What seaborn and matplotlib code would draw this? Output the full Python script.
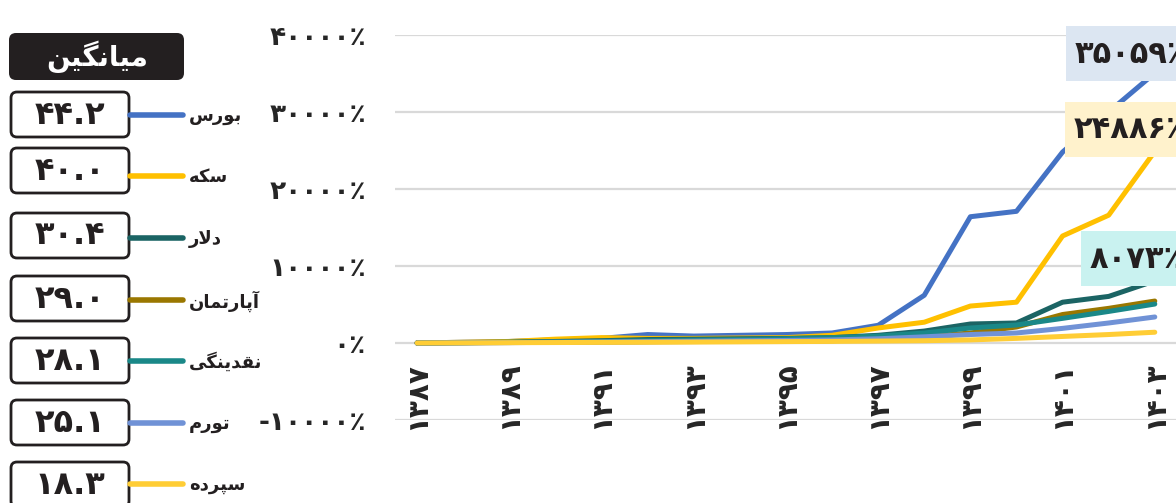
import numpy as np
import pandas as pd
import matplotlib
matplotlib.use('Agg')
import matplotlib.pyplot as plt
from matplotlib.patches import FancyBboxPatch, Rectangle
import seaborn as sns

# ---- data ----
years = list(range(1387, 1404))
series_names = ['بورس', 'سکه', 'دلار', 'آپارتمان', 'نقدینگی', 'تورم', 'سپرده']
bourse    = [0, 100, 200, 400, 600, 1100, 900, 1000, 1100, 1300, 2300, 6200, 16400, 17100, 24800, 30000, 35059]
gold      = [0, 100, 200, 500, 700, 600, 600, 650, 700, 1000, 1950, 2700, 4800, 5300, 13900, 16600, 24886]
dollar    = [0, 50, 100, 200, 300, 450, 500, 550, 600, 700, 1000, 1550, 2470, 2600, 5300, 6050, 8073]
apartment = [0, 30, 60, 100, 130, 160, 190, 220, 250, 300, 500, 800, 1300, 2080, 3700, 4500, 5450]
liquidity = [0, 40, 90, 150, 220, 300, 380, 460, 560, 700, 900, 1300, 1950, 2340, 3200, 4100, 5060]
inflation = [0, 20, 50, 90, 130, 180, 230, 280, 330, 400, 550, 800, 1100, 1300, 1900, 2600, 3380]
deposit   = [0, 20, 40, 60, 80, 100, 120, 150, 180, 210, 250, 300, 400, 600, 850, 1100, 1400]
averages  = [44.2, 40.0, 30.4, 29.0, 28.1, 25.1, 18.3]
end_labels = [35059, 24886, 8073]
colors = ['#4472c4', '#ffc000', '#1b6464', '#9a7700', '#1a8888', '#7092d6', '#ffcd35']

# ---- tiny persian shaper (matplotlib has no arabic shaping) ----
FORMS = {
    'ا': ('\uFE8D', '\uFE8E', None, None),
    'آ': ('\uFE81', '\uFE82', None, None),
    'د': ('\uFEA9', '\uFEAA', None, None),
    'ر': ('\uFEAD', '\uFEAE', None, None),
    'و': ('\uFEED', '\uFEEE', None, None),
    'ب': ('\uFE8F', '\uFE90', '\uFE91', '\uFE92'),
    'پ': ('\uFB56', '\uFB57', '\uFB58', '\uFB59'),
    'ت': ('\uFE95', '\uFE96', '\uFE97', '\uFE98'),
    'س': ('\uFEB1', '\uFEB2', '\uFEB3', '\uFEB4'),
    'ق': ('\uFED5', '\uFED6', '\uFED7', '\uFED8'),
    'ک': ('\uFB8E', '\uFB8F', '\uFB90', '\uFB91'),
    'گ': ('\uFB92', '\uFB93', '\uFB94', '\uFB95'),
    'ل': ('\uFEDD', '\uFEDE', '\uFEDF', '\uFEE0'),
    'م': ('\uFEE1', '\uFEE2', '\uFEE3', '\uFEE4'),
    'ن': ('\uFEE5', '\uFEE6', '\uFEE7', '\uFEE8'),
    'ه': ('\uFEE9', '\uFEEA', '\uFEEB', '\uFEEC'),
    'ی': ('\uFBFC', '\uFBFD', '\uFBFE', '\uFBFF'),
}


def shape(word):
    out = []
    prev_joins = False
    i = 0
    while i < len(word):
        c = word[i]
        if c == 'ل' and i + 1 < len(word) and word[i + 1] == 'ا':
            out.append('\uFEFC' if prev_joins else '\uFEFB')
            prev_joins = False
            i += 2
            continue
        iso, fin, ini, med = FORMS[c]
        nxt = word[i + 1] if i + 1 < len(word) else None
        joins_next = ini is not None and nxt in FORMS
        if prev_joins and joins_next:
            out.append(med)
        elif prev_joins:
            out.append(fin)
        elif joins_next:
            out.append(ini)
        else:
            out.append(iso)
        prev_joins = joins_next
        i += 1
    return ''.join(reversed(out))


def fa(s):
    return str(s).translate(str.maketrans('0123456789', '۰۱۲۳۴۵۶۷۸۹'))


# ---- long table for seaborn ----
values = [bourse, gold, dollar, apartment, liquidity, inflation, deposit]
df = pd.DataFrame({
    'year': years * len(series_names),
    'value': sum(values, []),
    'series': np.repeat(series_names, len(years)),
})

sns.set_style('white')
plt.rcParams['font.family'] = ['DejaVu Sans']
plt.rcParams['font.weight'] = 'bold'

W, H = 1176, 503
fig = plt.figure(figsize=(W / 100, H / 100), dpi=100)
ax = fig.add_axes([395 / W, 1 - 420 / H, 1 - 395 / W, (420 - 35) / H])

sns.lineplot(data=df, x='year', y='value', hue='series', hue_order=series_names,
             palette=colors, linewidth=3.6, legend=False, ax=ax,
             solid_capstyle='round')

ax.set_xlim(1386.52, 1403.46)
ax.set_ylim(-10000, 40000)
yt = [-10000, 0, 10000, 20000, 30000, 40000]
ax.set_yticks(yt)
ax.set_yticklabels([('-' if v < 0 else '') + fa(abs(v)) + '٪' for v in yt],
                   fontsize=19, fontweight='bold')
ax.set_xticks(years[::2])
ax.set_xticklabels([fa(y) for y in years[::2]], rotation=90, fontsize=20,
                   fontweight='bold')
ax.tick_params(axis='y', length=0, pad=21)
ax.tick_params(axis='x', length=0, pad=-42)
ax.grid(axis='y', color='#d9d9d9', lw=1.6)
ax.grid(axis='x', visible=False)
for s in ax.spines.values():
    s.set_visible(False)
ax.set_xlabel('')
ax.set_ylabel('')
ax.set_facecolor('none')

# ---- overlay in pixel coords: left legend panel + end labels ----
ov = fig.add_axes([0, 0, 1, 1], zorder=5)
ov.set_xlim(0, W)
ov.set_ylim(H, 0)
ov.axis('off')
ov.patch.set_alpha(0)

ov.add_patch(FancyBboxPatch((9, 33), 175, 47, boxstyle='round,pad=0,rounding_size=7',
                            fc='#231f20', ec='none'))
ov.text(97, 57, shape('میانگین'), color='white', fontsize=20, fontweight='bold',
        ha='center', va='center')

box_tops = [92, 148, 213, 276, 338, 400, 462]
line_ys = [115, 176, 238, 300, 361, 423, 484]
for name, avg, col, top, ly in zip(series_names, averages, colors, box_tops, line_ys):
    ov.add_patch(FancyBboxPatch((11, top), 118, 45, boxstyle='round,pad=0,rounding_size=6',
                                fc='white', ec='#231f20', lw=2))
    ov.text(70, top + 23, fa(f'{avg:.1f}'), fontsize=23, fontweight='bold',
            ha='center', va='center', color='#231f20')
    ov.plot([130, 183], [ly, ly], color=col, lw=4, solid_capstyle='round')
    ov.text(189, ly + 1, shape(name), fontsize=13, fontweight='bold',
            ha='left', va='center', color='#231f20')

# end-of-line value tags; the reference crops them at the right edge
label_boxes = [(1066, 26, '#dce6f2'), (1065, 102, '#fff2cc'), (1081, 231, '#c9f2f0')]
for v, (bx, by, fc) in zip(end_labels, label_boxes):
    ov.add_patch(Rectangle((bx, by), W - bx + 5, 55, fc=fc, ec='none'))
    ov.text(bx + 9, by + 28, fa(v) + '٪', fontsize=22, fontweight='bold',
            ha='left', va='center', color='#231f20')

fig.savefig('out.png', dpi=100)
